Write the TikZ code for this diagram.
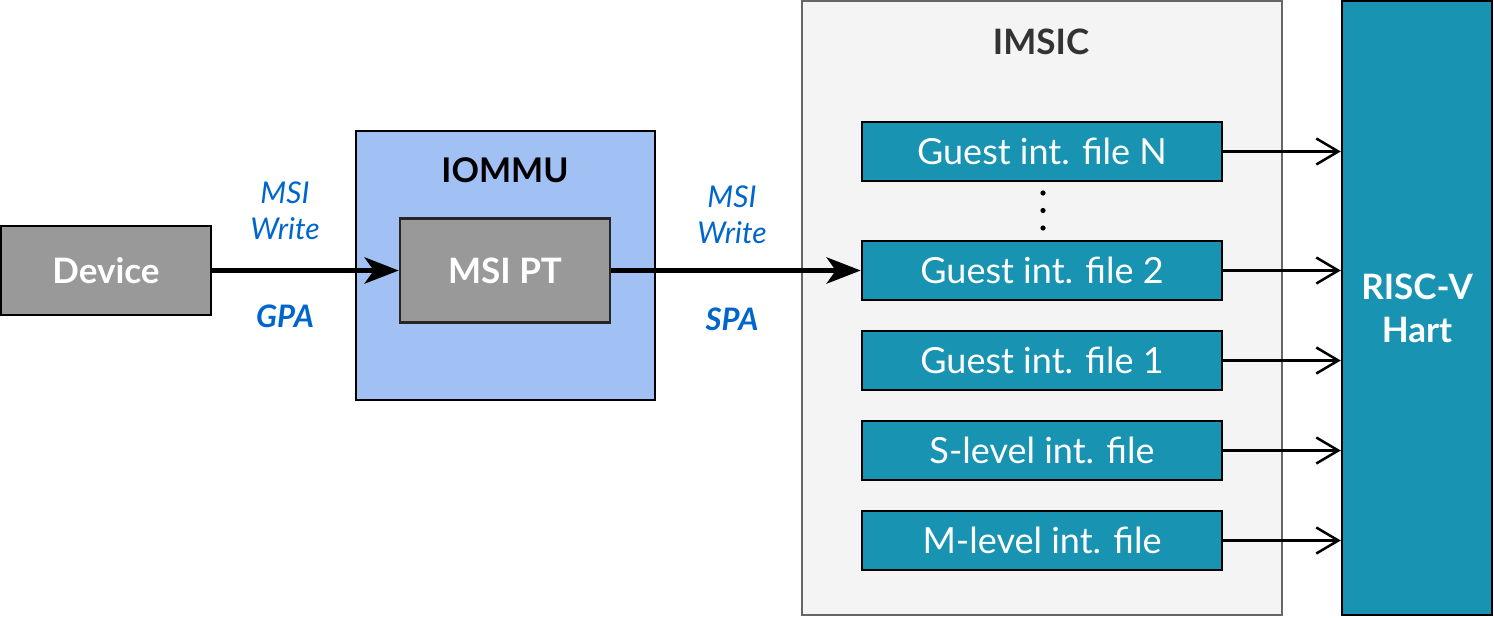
\documentclass[tikz,border=0pt]{standalone}
\usepackage{fontspec}
\setmainfont{Lato}
\usetikzlibrary{arrows.meta}
\definecolor{devgray}{HTML}{999999}
\definecolor{iommublue}{HTML}{A1C1F5}
\definecolor{imsicbg}{HTML}{F4F4F4}
\definecolor{imsicborder}{HTML}{666666}
\definecolor{teal}{HTML}{1893B2}
\definecolor{lblblue}{HTML}{0066CC}
\definecolor{darktext}{HTML}{333333}
\tikzset{
  box/.style={draw=black, line width=2.5pt, inner sep=0pt, text=white, font=\fontsize{36}{40}\selectfont},
  graybox/.style={box, fill=devgray, font=\fontsize{35}{40}\selectfont\bfseries},
  filebox/.style={box, fill=teal, minimum width=360pt, minimum height=59pt},
  lbl/.style={text=lblblue, font=\fontsize{30}{36}\selectfont\itshape, align=center},
  lblb/.style={text=lblblue, font=\fontsize{31}{36}\selectfont\bfseries\itshape},
  title/.style={font=\fontsize{35}{40}\selectfont\bfseries},
  thick arrow/.style={line width=5.5pt, -{Stealth[length=34pt,width=26pt,inset=9pt]}},
  thin arrow/.style={line width=2.5pt, -{Straight Barb[length=22pt,width=26pt]}},
}
\begin{document}
\begin{tikzpicture}[x=1pt,y=-1pt]
\useasboundingbox (0,0) rectangle (1494,618);
% IOMMU
\node[draw=black, line width=2.5pt, fill=iommublue, minimum width=299pt, minimum height=269pt, inner sep=0pt] (iommu) at (505.5,265.5) {};
\node[title, text=black, font=\fontsize{34}{40}\selectfont\bfseries] (iommulbl) at (505,170) {IOMMU};
\node[graybox, draw=black!85, minimum width=210pt, minimum height=104pt] (msipt) at (505,270.5) {MSI PT};
% Device
\node[graybox, minimum width=210pt, minimum height=89pt] (dev) at (106,270.5) {Device};
% IMSIC
\node[draw=imsicborder, line width=2pt, fill=imsicbg, minimum width=480pt, minimum height=614pt, inner sep=0pt] (imsic) at (1042,308) {};
\node[title, text=darktext] (imsiclbl) at (1041,42) {IMSIC};
\node[filebox] (gN) at (1042,151.5) {Guest int. file N};
\node[filebox] (g2) at (1042,270.5) {Guest int. file 2};
\node[filebox] (g1) at (1042,360.5) {Guest int. file 1};
\node[filebox] (sl) at (1042,450.5) {S-level int. file};
\node[filebox] (ml) at (1042,540.5) {M-level int. file};
\foreach \yy [count=\i] in {193,210.5,228}
  \fill[black] (1043,\yy) circle (2.6pt) coordinate (dot\i);
% Hart
\node[box, fill=teal, minimum width=150pt, minimum height=614pt, align=center, font=\fontsize{35}{43}\selectfont\bfseries] (hart) at (1417,308) {RISC-V\\Hart};
% labels
\node[lbl] (w1) at (285,211) {MSI\\Write};
\node[lblb] (gpa) at (285,316) {GPA};
\node[lbl] (w2) at (732,215) {MSI\\Write};
\node[lblb] (spa) at (732,319) {SPA};
% arrows
\draw[thick arrow] (dev.east) -- (msipt.west);
\draw[thick arrow] (msipt.east) -- (g2.west);
\foreach \n in {gN,g2,g1,sl,ml}
  \draw[thin arrow] (\n.east) -- (\n.east -| hart.west);
\end{tikzpicture}
\end{document}
